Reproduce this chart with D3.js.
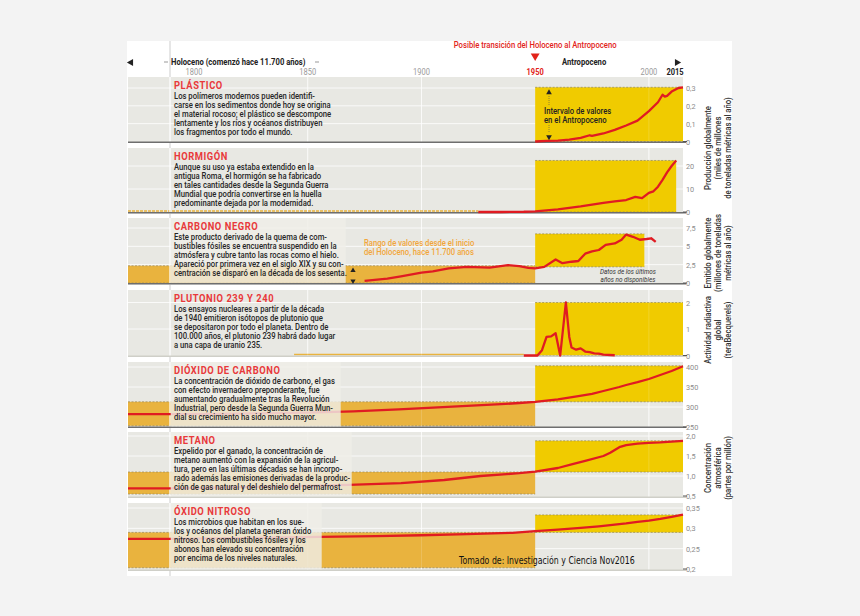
<!DOCTYPE html>
<html>
<head>
<meta charset="utf-8">
<script src="https://cdn.jsdelivr.net/npm/d3@7"></script>
<style>
  body { margin: 0; background: #f3f3f3; }
  svg { display: block; }
</style>
</head>
<body>
<div id="chart"></div>
<script>
var yearTicks = [1800, 1850, 1900, 1950, 2000, 2015];
var gridYears = [1850, 1900, 2000];

var panelNames = ["PLÁSTICO", "HORMIGÓN", "CARBONO NEGRO", "PLUTONIO 239 Y 240",
                  "DIÓXIDO DE CARBONO", "METANO", "ÓXIDO NITROSO"];

var plasticYears  = [1950, 1955, 1960, 1965, 1970, 1974, 1975, 1978, 1980, 1985, 1990, 1995, 2000, 2004, 2006, 2007, 2008, 2010, 2013, 2015];
var plasticValues = [0, 0.003, 0.005, 0.01, 0.02, 0.035, 0.032, 0.04, 0.045, 0.065, 0.09, 0.117, 0.17, 0.22, 0.262, 0.252, 0.256, 0.28, 0.3, 0.304];

var concreteYears  = [1925, 1935, 1945, 1950, 1955, 1960, 1965, 1970, 1975, 1980, 1985, 1990, 1994, 1997, 2000, 2002, 2004, 2006, 2008, 2010, 2012];
var concreteValues = [0, 0, 0.1, 0.3, 0.7, 1.1, 1.8, 2.4, 3.2, 4.0, 4.6, 5.2, 6.6, 6.0, 8.3, 9.0, 11, 14, 17.2, 20, 22.4];

var carbonYears  = [1875, 1885, 1891, 1900, 1905, 1912, 1920, 1930, 1938, 1943, 1947, 1950, 1954, 1959, 1962, 1966, 1969, 1972, 1975, 1978, 1981, 1985, 1988, 1990, 1993, 1996, 1999, 2001, 2003];
var carbonValues = [0.3, 0.6, 0.9, 1.4, 1.6, 2.0, 2.2, 2.1, 2.45, 2.3, 2.05, 2.0, 2.2, 3.2, 2.7, 2.9, 3.0, 4.0, 4.3, 4.5, 5.2, 5.4, 5.9, 6.6, 6.3, 5.9, 6.0, 6.1, 5.6];

var plutoniumYears  = [1945, 1951, 1953, 1955, 1957, 1959, 1961, 1963.5, 1965, 1966, 1968, 1970, 1972, 1974, 1976, 1978, 1980, 1985];
var plutoniumValues = [0, 0, 0.2, 0.7, 0.72, 0.84, 0, 2.0, 0.7, 0.3, 0.22, 0.27, 0.15, 0.13, 0.08, 0.07, 0.03, 0.01];

var co2Years  = [1790, 1810, 1830, 1850, 1870, 1890, 1903, 1920, 1935, 1943, 1950, 1960, 1969, 1975, 1980, 1987, 1990, 1995, 2000, 2005, 2010, 2015];
var co2Values = [282, 283, 284, 286, 289, 294, 298, 303, 307, 310, 313, 319, 327, 333, 340, 350, 355, 362, 370, 380, 390, 402];

var methaneYears  = [1790, 1820, 1850, 1868, 1891, 1910, 1926, 1943, 1950, 1960, 1966, 1972, 1980, 1983, 1987, 1990, 1995, 2000, 2005, 2010, 2015];
var methaneValues = [0.69, 0.72, 0.75, 0.78, 0.82, 0.9, 1.0, 1.07, 1.11, 1.2, 1.29, 1.38, 1.5, 1.58, 1.72, 1.77, 1.81, 1.83, 1.84, 1.86, 1.88];

var n2oYears  = [1790, 1820, 1855, 1880, 1900, 1920, 1940, 1950, 1960, 1970, 1978, 1985, 1990, 1995, 2000, 2005, 2010, 2015];
var n2oValues = [0.274, 0.276, 0.279, 0.281, 0.283, 0.286, 0.289, 0.293, 0.297, 0.301, 0.305, 0.309, 0.312, 0.316, 0.319, 0.323, 0.328, 0.334];

var seriesYears  = [plasticYears, concreteYears, carbonYears, plutoniumYears, co2Years, methaneYears, n2oYears];
var seriesValues = [plasticValues, concreteValues, carbonValues, plutoniumValues, co2Values, methaneValues, n2oValues];

// holocene level (flat line at the far left) and ranges
var holoceneLevel = [null, null, null, null, 282, 0.69, 0.274];
var holoLow   = [null, 0, 0, 0, 253, 0.55, 0.203];
var holoHigh  = [null, 0, 2.35, 0, 313, 1.1, 0.29];
var holoFrom  = [null, null, null, 1844, null, null, null];   // null = from the left edge
var holoTo    = [null, 1925, 1950, 1945, 1950, 1950, 1950];

// anthropocene interval (yellow)
var anthroLow  = [0, 0, 2.2, 0, 313, 1.1, 0.29];
var anthroHigh = [0.304, 22.4, 6.7, 2, 403, 1.88, 0.333];
var anthroTo   = [2015, 2012, 1998, 2015, 2015, 2015, 2015];

var axisDomains = [[0, 0.3], [0, 20], [0, 7.5], [0, 2], [250, 400], [0.5, 2.0], [0.2, 0.35]];
var tickValues = [[0, 0.1, 0.2, 0.3], [0, 10, 20], [0, 2.5, 5, 7.5], [0, 1, 2],
                  [250, 300, 350, 400], [0.5, 1.0, 1.5, 2.0], [0.2, 0.25, 0.3, 0.35]];
var tickLabels = [["0", "0,1", "0,2", "0,3"], ["0", "10", "20"], ["0", "2,5", "5", "7,5"], ["0", "1", "2"],
                  ["250", "300", "350", "400"], ["0,5", "1,0", "1,5", "2,0"], ["0,2", "0,25", "0,3", "0,35"]];

var panelTexts = [
  ["Los polímeros modernos pueden identifi-", "carse en los sedimentos donde hoy se origina",
   "el material rocoso; el plástico se descompone", "lentamente y los ríos y océanos distribuyen",
   "los fragmentos por todo el mundo."],
  ["Aunque su uso ya estaba extendido en la", "antigua Roma, el hormigón se ha fabricado",
   "en tales cantidades desde la Segunda Guerra", "Mundial que podría convertirse en la huella",
   "predominante dejada por la modernidad."],
  ["Este producto derivado de la quema de com-", "bustibles fósiles se encuentra suspendido en la",
   "atmósfera y cubre tanto las rocas como el hielo.", "Apareció por primera vez en el siglo XIX y su con-",
   "centración se disparó en la década de los sesenta."],
  ["Los ensayos nucleares a partir de la década", "de 1940 emitieron isótopos de plutonio que",
   "se depositaron por todo el planeta. Dentro de", "100.000 años, el plutonio 239 habrá dado lugar",
   "a una capa de uranio 235."],
  ["La concentración de dióxido de carbono, el gas", "con efecto invernadero preponderante, fue",
   "aumentando gradualmente tras la Revolución", "Industrial, pero desde la Segunda Guerra Mun-",
   "dial su crecimiento ha sido mucho mayor."],
  ["Expelido por el ganado, la concentración de", "metano aumentó con la expansión de la agricul-",
   "tura, pero en las últimas décadas se han incorpo-", "rado además las emisiones derivadas de la produc-",
   "ción de gas natural y del deshielo del permafrost."],
  ["Los microbios que habitan en los sue-", "los y océanos del planeta generan óxido",
   "nitroso. Los combustibles fósiles y los", "abonos han elevado su concentración",
   "por encima de los niveles naturales."]
];

var unitTitles = [
  { lines: ["Producción globalmente", "(miles de millones", "de toneladas métricas al año)"], cy: 148 },
  { lines: ["Emitido globalmente", "(millones de toneladas", "métricas al año)"], cy: 253 },
  { lines: ["Actividad radiactiva", "global", "(teraBecquerels)"], cy: 330 },
  { lines: ["Concentración", "atmosférica", "(partes por millón)"], cy: 468 }
];

// ---- layout ----
var panelTop    = [77, 148, 218, 290, 362, 432, 503];
var panelBottom = [143, 213.5, 284.5, 357, 428, 498, 571];
var yBottom     = [141.5, 212, 283, 355.5, 427, 496, 569];
var yTop        = [88, 166, 228, 302.5, 367, 436, 508];
var overlayRight = [null, null, 345, null, 340, 351, 321];
var panelLeft = 128, sepX = 170;

var colPanel = "#e8e8e3", colYellow = "#f0cb00", colOrange = "#e9b33e",
    colRed = "#e01b22", colTitle = "#e8393b";
var bodyFont = "Roboto, 'Liberation Sans', Arial, sans-serif";

var svg = d3.select("#chart").append("svg")
    .attr("width", 860)
    .attr("height", 616);

svg.append("rect").attr("width", 860).attr("height", 616).attr("fill", "#f3f3f3");
svg.append("rect").attr("x", 127).attr("y", 41).attr("width", 605).attr("height", 535).attr("fill", "#fff");

function measure(str, size, weight) {
  var t = svg.append("text").style("font-family", bodyFont)
      .style("font-size", size + "px").style("font-weight", weight).text(str);
  var w = t.node().getComputedTextLength();
  t.remove();
  return w;
}
var kBody = 152.6 / measure("Este producto derivado de la quema de com-", 8.4, 500);

// condensed text helper
function addText(g, str, px, py, size, o) {
  o = o || {};
  var k = o.k || kBody;
  return g.append("text")
      .attr("transform", "translate(" + px + "," + py + ")" + (o.rot ? " rotate(-90)" : "") + " scale(" + k + ",1)")
      .attr("text-anchor", o.anchor || "start")
      .style("font-family", bodyFont)
      .style("font-size", size + "px")
      .style("font-weight", o.weight || 400)
      .style("font-style", o.italic ? "italic" : "normal")
      .style("letter-spacing", o.ls || 0)
      .attr("fill", o.fill || "#222")
      .text(str);
}

var x = d3.scaleLinear().domain([1800, 2015]).range([194, 683]);
var panelRight = x(2015);

// separator between holocene and the time axis
svg.append("line").attr("x1", sepX).attr("x2", sepX).attr("y1", 41).attr("y2", 576)
    .attr("stroke", "#d6d6d6").attr("stroke-width", 1.2);

// ---- header ----
var head = svg.append("g");
addText(head, "Posible transición del Holoceno al Antropoceno", x(1950), 48, 8.4, { fill: "#e2231a", anchor: "middle", weight: 500 });
head.append("path")
    .attr("d", d3.symbol().type(d3.symbolTriangle).size(34))
    .attr("transform", "translate(" + x(1950) + ",56) rotate(180)")
    .attr("fill", "#e2231a");
head.append("path")
    .attr("d", d3.symbol().type(d3.symbolTriangle).size(22))
    .attr("transform", "translate(131,62.5) rotate(-90)")
    .attr("fill", "#222");
head.append("path")
    .attr("d", d3.symbol().type(d3.symbolTriangle).size(22))
    .attr("transform", "translate(677,62.5) rotate(90)")
    .attr("fill", "#222");
addText(head, "Holoceno (comenzó hace 11.700 años)", sepX + 1, 65, 9, { weight: 700, k: kBody * 0.93 });
head.append("line").attr("x1", 164).attr("x2", 168).attr("y1", 62).attr("y2", 62).attr("stroke", "#999");
head.append("line").attr("x1", 315).attr("x2", 319).attr("y1", 62).attr("y2", 62).attr("stroke", "#999");
addText(head, "Antropoceno", 562, 65, 9, { weight: 700, k: kBody * 0.93 });

yearTicks.forEach(function (yr) {
  var is1950 = yr === 1950, is2015 = yr === 2015;
  addText(head, String(yr), x(yr) - (is2015 ? 8 : 0), 75, 8.2, {
    anchor: "middle",
    weight: (is1950 || is2015) ? 700 : 400,
    fill: is1950 ? "#e2231a" : (is2015 ? "#222" : "#9a9a9a")
  });
});
head.append("line").attr("x1", x(1950)).attr("x2", x(1950)).attr("y1", 77).attr("y2", 82)
    .attr("stroke", "#333").attr("stroke-dasharray", "1,1.5");

// ---- panels ----
panelNames.forEach(function (name, i) {
  var g = svg.append("g");
  var y = d3.scaleLinear().domain(axisDomains[i]).range([yBottom[i], yTop[i]]);
  var top = panelTop[i], bottom = panelBottom[i];

  g.append("rect")
      .attr("x", panelLeft).attr("y", top)
      .attr("width", panelRight - panelLeft).attr("height", bottom - top)
      .attr("fill", colPanel);

  // horizontal grid
  g.selectAll(".hgrid").data(tickValues[i].slice(1)).enter().append("line")
      .attr("x1", panelLeft).attr("x2", panelRight)
      .attr("y1", function (d) { return y(d); }).attr("y2", function (d) { return y(d); })
      .attr("stroke", "#fff").attr("stroke-width", 1).attr("opacity", 0.8);

  // vertical grid (under the boxes)
  g.selectAll(".vgrid").data(gridYears).enter().append("line")
      .attr("x1", function (d) { return x(d); }).attr("x2", function (d) { return x(d); })
      .attr("y1", top).attr("y2", bottom)
      .attr("stroke", "#fff").attr("stroke-width", 1).attr("opacity", 0.8);

  // holocene range (orange)
  if (holoHigh[i] !== null) {
    var hx0 = holoFrom[i] === null ? panelLeft : x(holoFrom[i]);
    var hx1 = x(holoTo[i]);
    if (holoHigh[i] > holoLow[i]) {
      g.append("rect")
          .attr("x", hx0).attr("y", y(holoHigh[i]))
          .attr("width", hx1 - hx0).attr("height", y(holoLow[i]) - y(holoHigh[i]))
          .attr("fill", colOrange);
      g.append("line").attr("x1", hx0).attr("x2", hx1)
          .attr("y1", y(holoHigh[i])).attr("y2", y(holoHigh[i]))
          .attr("stroke", "#9b8a5a").attr("stroke-width", 0.7).attr("stroke-dasharray", "2,1.5");
      g.append("line").attr("x1", hx0).attr("x2", hx1)
          .attr("y1", y(holoLow[i])).attr("y2", y(holoLow[i]))
          .attr("stroke", "#9b8a5a").attr("stroke-width", 0.7).attr("stroke-dasharray", "2,1.5");
    } else {
      g.append("line").attr("x1", hx0).attr("x2", hx1)
          .attr("y1", y(holoLow[i]) - 1).attr("y2", y(holoLow[i]) - 1)
          .attr("stroke", colOrange).attr("stroke-width", 1.6)
          .attr("stroke-dasharray", i === 1 ? "3,1" : null);
    }
  }

  // anthropocene interval (yellow)
  var ax0 = x(1950), ax1 = x(anthroTo[i]);
  g.append("rect")
      .attr("x", ax0).attr("y", y(anthroHigh[i]))
      .attr("width", ax1 - ax0).attr("height", y(anthroLow[i]) - y(anthroHigh[i]))
      .attr("fill", colYellow);
  [anthroHigh[i], anthroLow[i]].forEach(function (v) {
    g.append("line").attr("x1", ax0).attr("x2", ax1)
        .attr("y1", y(v)).attr("y2", y(v))
        .attr("stroke", "#8f8558").attr("stroke-width", 0.7).attr("stroke-dasharray", "2,1.5");
  });

  // faint grid over the boxes
  g.selectAll(".vgrid2").data(gridYears).enter().append("line")
      .attr("x1", function (d) { return x(d); }).attr("x2", function (d) { return x(d); })
      .attr("y1", top).attr("y2", bottom)
      .attr("stroke", "#fff").attr("stroke-width", 0.8).attr("opacity", 0.2);
  g.append("line").attr("x1", sepX).attr("x2", sepX).attr("y1", top).attr("y2", bottom)
      .attr("stroke", "#fff").attr("stroke-width", 1.4).attr("opacity", 0.9);

  // baseline
  g.append("line").attr("x1", panelLeft).attr("x2", panelRight + 3)
      .attr("y1", bottom - 0.8).attr("y2", bottom - 0.8)
      .attr("stroke", (i === 3 || i === 5 || i === 6) ? "#cfcfc8" : "#6e6e6e")
      .attr("stroke-width", 1.6);

  // holocene level segment
  var yrs = seriesYears[i], vals = seriesValues[i];
  if (holoceneLevel[i] !== null) {
    g.append("line").attr("x1", panelLeft).attr("x2", x(yrs[0]))
        .attr("y1", y(holoceneLevel[i])).attr("y2", y(holoceneLevel[i]))
        .attr("stroke", colRed).attr("stroke-width", 2.3);
  }

  var line = d3.line()
      .x(function (d, j) { return x(yrs[j]); })
      .y(function (d) { return y(d); });
  g.append("path").datum(vals)
      .attr("d", line)
      .attr("fill", "none")
      .attr("stroke", colRed)
      .attr("stroke-width", 2.3)
      .attr("stroke-linejoin", "round");

  // overlay behind the text block
  if (overlayRight[i] !== null) {
    g.append("rect")
        .attr("x", sepX + 0.7).attr("y", top)
        .attr("width", overlayRight[i] - sepX).attr("height", bottom - top - 1.6)
        .attr("fill", "#efeee8").attr("opacity", 0.82);
  }

  // title and text
  addText(g, name, 174, top + 12, 10.2, { weight: 700, fill: colTitle, ls: "0.6px", k: 0.92 });
  panelTexts[i].forEach(function (t, j) {
    addText(g, t, 174, top + 21.5 + j * 9, 8.4, { weight: 500, fill: "#262626" });
  });

  // tick labels
  tickValues[i].forEach(function (v, j) {
    addText(g, tickLabels[i][j], 686, y(v) + 3, 8, { fill: "#8c8c8c" });
  });
  g.append("line").attr("x1", panelRight).attr("x2", panelRight + 4)
      .attr("y1", y(tickValues[i][0])).attr("y2", y(tickValues[i][0]))
      .attr("stroke", "#555").attr("stroke-width", 1);
});

// ---- annotations ----
var ann = svg.append("g");
addText(ann, "Intervalo de valores", 544, 113.5, 8.4, { weight: 500 });
addText(ann, "en el Antropoceno", 544, 122.5, 8.4, { weight: 500 });
ann.append("path").attr("d", d3.symbol().type(d3.symbolTriangle).size(14))
    .attr("transform", "translate(549,92.5)").attr("fill", "#222");
ann.append("path").attr("d", d3.symbol().type(d3.symbolTriangle).size(14))
    .attr("transform", "translate(549,137) rotate(180)").attr("fill", "#222");
ann.append("line").attr("x1", 549).attr("x2", 549).attr("y1", 96).attr("y2", 106)
    .attr("stroke", "#555").attr("stroke-width", 0.6).attr("stroke-dasharray", "1,1");
ann.append("line").attr("x1", 549).attr("x2", 549).attr("y1", 125).attr("y2", 133)
    .attr("stroke", "#555").attr("stroke-width", 0.6).attr("stroke-dasharray", "1,1");

addText(ann, "Rango de valores desde el inicio", 364, 245.5, 8.4, { weight: 500, fill: "#f2a63a" });
addText(ann, "del Holoceno, hace 11.700 años", 364, 254.5, 8.4, { weight: 500, fill: "#f2a63a" });
ann.append("path").attr("d", d3.symbol().type(d3.symbolTriangle).size(12))
    .attr("transform", "translate(353,270.5)").attr("fill", "#222");
ann.append("path").attr("d", d3.symbol().type(d3.symbolTriangle).size(12))
    .attr("transform", "translate(353,281) rotate(180)").attr("fill", "#222");

addText(ann, "Datos de los últimos", 628, 274, 6.6, { anchor: "middle", italic: true, fill: "#333", k: kBody * 1.05 });
addText(ann, "años no disponibles", 628, 281.8, 6.6, { anchor: "middle", italic: true, fill: "#333", k: kBody * 1.05 });

// right-hand unit titles
unitTitles.forEach(function (u) {
  u.lines.forEach(function (t, j) {
    addText(svg, t, 711 + j * 10, u.cy, 8.4, { rot: true, anchor: "middle", fill: "#333", weight: 500 });
  });
});

// source
var src = svg.append("text")
    .attr("x", 459).attr("y", 564)
    .style("font-family", "'DejaVu Sans', sans-serif")
    .style("font-size", "10.5px")
    .attr("fill", "#111")
    .text("Tomado de: Investigación y Ciencia Nov2016");
var sw = src.node().getComputedTextLength();
src.attr("x", null).attr("y", null)
    .attr("transform", "translate(459,564) scale(" + (176 / sw) + ",1)");
</script>
</body>
</html>
